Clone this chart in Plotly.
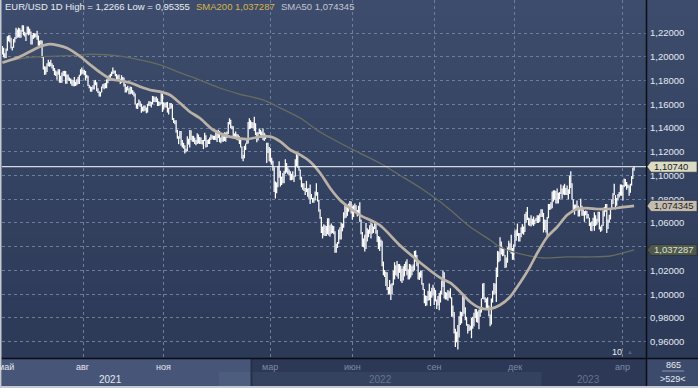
import plotly.graph_objects as go
import pandas as pd

# ---------------- data ----------------
START = "2021-05-03"  # first daily bar (business days)

# daily highs / lows in pips (price * 10000), month by month
high_2021 = [
    12090, 12076, 12030, 12070, 12173, 12181, 12182, 12160, 12085, 12150, 12165, 12245, 12230, 12245, 12240, 12225, 12266, 12265, 12210, 12200, 12255,
    12254, 12235, 12212, 12184, 12200, 12197, 12196, 12218, 12180, 12136, 12140, 12136, 12000, 11920, 11918, 11945, 11975, 11955, 11975, 11945, 11930, 11905,
    11885, 11875, 11895, 11895, 11840, 11868, 11880, 11882, 11880, 11850, 11850, 11826, 11817, 11808, 11805, 11829, 11790, 11810, 11830, 11849, 11895, 11909,
    11892, 11890, 11880, 11849, 11840, 11765, 11750, 11745, 11760, 11800, 11805, 11785, 11735, 11710, 11705, 11750, 11770, 11775, 11780, 11810, 11811, 11845,
    11857, 11875, 11909, 11885, 11885, 11855, 11845, 11850, 11815, 11845, 11830, 11825, 11770, 11745, 11755, 11735, 11750, 11745, 11720, 11705, 11690, 11605,
    11610, 11640, 11625, 11605, 11580, 11590, 11590, 11573, 11604, 11625, 11625, 11620, 11670, 11668, 11660, 11665, 11650, 11625, 11620, 11692, 11690,
    11616, 11613, 11616, 11620, 11570, 11610, 11610, 11600, 11485, 11465, 11465, 11385, 11330, 11375, 11375, 11300, 11275, 11255, 11225, 11330, 11310, 11383,
    11382, 11335, 11334, 11318, 11300, 11355, 11345, 11325, 11320, 11300, 11300, 11360, 11340, 11300, 11305, 11320, 11345, 11340, 11335, 11335, 11370, 11365, 11386,
]
low_2021 = [
    12020, 11995, 11987, 11990, 12050, 12130, 12120, 12070, 12052, 12075, 12120, 12150, 12160, 12163, 12160, 12160, 12210, 12180, 12170, 12133, 12190,
    12180, 12188, 12104, 12103, 12150, 12160, 12165, 12144, 12093, 12092, 12103, 11990, 11892, 11847, 11850, 11871, 11920, 11915, 11920, 11902, 11880, 11845,
    11837, 11807, 11848, 11782, 11780, 11782, 11838, 11835, 11772, 11772, 11800, 11796, 11772, 11756, 11752, 11751, 11754, 11760, 11770, 11771, 11840, 11850,
    11857, 11845, 11800, 11820, 11753, 11735, 11706, 11705, 11725, 11725, 11760, 11710, 11695, 11665, 11664, 11700, 11735, 11727, 11735, 11735, 11777, 11797,
    11800, 11837, 11855, 11860, 11835, 11800, 11800, 11810, 11770, 11780, 11800, 11750, 11700, 11700, 11715, 11685, 11685, 11690, 11680, 11665, 11600, 11563,
    11560, 11590, 11580, 11529, 11540, 11540, 11545, 11524, 11530, 11585, 11585, 11572, 11600, 11620, 11617, 11620, 11585, 11585, 11590, 11600, 11535,
    11555, 11575, 11570, 11530, 11513, 11560, 11565, 11468, 11443, 11432, 11360, 11310, 11264, 11310, 11250, 11235, 11226, 11186, 11195, 11205, 11260, 11235,
    11300, 11285, 11282, 11265, 11255, 11265, 11270, 11265, 11265, 11260, 11222, 11290, 11236, 11240, 11265, 11265, 11300, 11310, 11300, 11300, 11300, 11282, 11315,
]
high_2022 = [
    11375, 11320, 11346, 11330, 11364, 11363, 11370, 11450, 11482, 11470, 11420, 11415, 11355, 11370, 11350, 11345, 11330, 11310, 11245, 11174, 11250,
    11270, 11310, 11450, 11483, 11465, 11450, 11448, 11495, 11440, 11365, 11365, 11395, 11385, 11370, 11395, 11360, 11345, 11275, 11275, 11240,
    11230, 11150, 11125, 11070, 10950, 10940, 11080, 11120, 11040, 10990, 11020, 11040, 11137, 11105, 11070, 11050, 11035, 11015, 11035, 11000, 11137, 11185, 11170,
    11075, 11050, 10990, 10935, 10935, 10895, 10955, 10890, 10895, 10925, 10845, 10810, 10815, 10865, 10935, 10860, 10795, 10715, 10650, 10570, 10590,
    10580, 10575, 10640, 10640, 10580, 10595, 10580, 10575, 10530, 10425, 10440, 10545, 10565, 10605, 10595, 10690, 10750, 10740, 10735, 10765, 10785, 10780,
    10740, 10750, 10765, 10750, 10710, 10745, 10775, 10630, 10525, 10470, 10500, 10600, 10555, 10545, 10580, 10605, 10595, 10570, 10615, 10605, 10540, 10490,
    10485, 10460, 10450, 10275, 10205, 10190, 10185, 10060, 10120, 10085, 10095, 10200, 10270, 10245, 10280, 10255, 10255, 10240, 10215, 10235, 10255,
    10275, 10295, 10210, 10255, 10250, 10235, 10250, 10365, 10368, 10330, 10270, 10185, 10200, 10200, 10095, 10045, 9990, 9985, 10030, 10090, 10025, 10055, 10080,
    10055, 10035, 9955, 9985, 10010, 10030, 10115, 10200, 10185, 10020, 10015, 10035, 10025, 10050, 9975, 9905, 9850, 9710, 9685, 9740, 9815, 9855,
    9850, 9999, 9995, 9890, 9810, 9750, 9745, 9735, 9800, 9810, 9845, 9875, 9875, 9855, 9870, 9875, 9965, 10090, 10095, 9975, 9965,
    9975, 9905, 9830, 9965, 10030, 10095, 10090, 10225, 10365, 10360, 10480, 10445, 10395, 10385, 10330, 10310, 10395, 10450, 10430, 10500, 10390, 10420,
    10535, 10545, 10595, 10515, 10515, 10565, 10590, 10570, 10675, 10695, 10735, 10645, 10640, 10665, 10635, 10655, 10630, 10645, 10665, 10665, 10680, 10715,
]
low_2022 = [
    11280, 11272, 11285, 11285, 11290, 11285, 11315, 11350, 11430, 11400, 11390, 11323, 11320, 11315, 11300, 11295, 11265, 11235, 11140, 11121, 11145,
    11215, 11265, 11270, 11390, 11395, 11400, 11395, 11375, 11340, 11280, 11295, 11350, 11340, 11315, 11300, 11290, 11305, 11106, 11190, 11120,
    11110, 11090, 11040, 10860, 10806, 10850, 10900, 10980, 10907, 10920, 10935, 10935, 11015, 11025, 11010, 11000, 10960, 10960, 10965, 10945, 10990, 11080, 11065,
    11040, 10965, 10900, 10880, 10870, 10835, 10860, 10820, 10805, 10760, 10800, 10770, 10770, 10790, 10830, 10780, 10695, 10635, 10515, 10470, 10495,
    10490, 10490, 10505, 10495, 10485, 10510, 10515, 10505, 10350, 10350, 10390, 10425, 10460, 10460, 10530, 10560, 10640, 10645, 10660, 10695, 10730, 10680,
    10627, 10650, 10705, 10690, 10655, 10680, 10610, 10505, 10400, 10395, 10360, 10380, 10445, 10480, 10510, 10470, 10510, 10515, 10550, 10510, 10440, 10380,
    10365, 10405, 10235, 10160, 10145, 10070, 10035, 9998, 9998, 9952, 10000, 10075, 10125, 10160, 10150, 10130, 10180, 10110, 10095, 10115, 10150,
    10195, 10160, 10125, 10125, 10140, 10160, 10190, 10200, 10275, 10235, 10125, 10120, 10140, 10080, 10035, 9925, 9900, 9905, 9945, 9950, 9900, 9970, 9990,
    9910, 9940, 9875, 9905, 9865, 9930, 10000, 10060, 9965, 9955, 9955, 9945, 9970, 9965, 9810, 9810, 9670, 9555, 9595, 9535.5, 9635, 9740,
    9755, 9815, 9835, 9780, 9735, 9670, 9690, 9695, 9630, 9710, 9730, 9800, 9765, 9760, 9705, 9810, 9845, 9960, 9955, 9930, 9870,
    9870, 9815, 9730, 9745, 9930, 9995, 10005, 9935, 10145, 10270, 10280, 10335, 10320, 10325, 10220, 10225, 10265, 10365, 10355, 10340, 10290, 10290,
    10400, 10450, 10490, 10445, 10445, 10480, 10510, 10500, 10525, 10605, 10625, 10580, 10575, 10570, 10585, 10575, 10590, 10615, 10600, 10600, 10610, 10650,
]
high_2023 = [
    10715, 10685, 10630, 10625, 10650, 10760, 10760, 10775, 10865, 10875, 10875, 10870, 10890, 10855, 10860, 10925, 10890, 10915, 10930, 10895, 10915, 10885,
    11000, 11035, 10935, 10800, 10755, 10755, 10790, 10745, 10730, 10805, 10745, 10715, 10700, 10705, 10700, 10675, 10645, 10605, 10615, 10645,
    10690, 10665, 10635, 10695, 10695, 10570, 10585, 10705, 10735, 10760, 10760, 10630, 10670, 10720, 10800, 10850, 10930, 10835, 10810, 10845, 10860, 10925, 10925,
    10920, 10975, 10970, 10945, 10925, 10915, 10930, 10995, 11065, 11075,
]
low_2023 = [
    10650, 10520, 10540, 10520, 10483, 10640, 10710, 10715, 10725, 10780, 10795, 10765, 10765, 10765, 10800, 10845, 10805, 10840, 10835, 10835, 10835, 10800,
    10845, 10895, 10795, 10710, 10670, 10705, 10710, 10655, 10655, 10705, 10660, 10660, 10610, 10665, 10635, 10640, 10575, 10535, 10530, 10575,
    10535, 10575, 10585, 10610, 10545, 10525, 10535, 10575, 10655, 10695, 10515, 10550, 10605, 10630, 10715, 10760, 10835, 10715, 10745, 10790, 10815, 10830, 10830,
    10790, 10900, 10910, 10880, 10895, 10830, 10855, 10915, 10970, 11040,
]

# moving averages (bar index -> value)
sma50_idx = [0, 14, 30, 38, 52, 63, 71, 79, 87, 95, 103, 111, 119, 127, 135, 143, 151, 159, 170, 183,
             197, 208, 216, 224, 232, 240, 248, 256, 264, 272, 280, 288, 304, 320, 336, 353, 361, 369,
             377, 385, 393, 401, 409, 417, 425, 431, 439, 447, 455, 463, 471, 479, 487, 495, 509]
sma50 = [1.1950, 1.2000, 1.2085, 1.2107, 1.2074, 1.2000, 1.1931, 1.1866, 1.1813, 1.1798, 1.1781, 1.1748,
         1.1720, 1.1706, 1.1678, 1.1611, 1.1537, 1.1484, 1.1383, 1.1327, 1.1307, 1.1327, 1.1327, 1.1285,
         1.1215, 1.1173, 1.1116, 1.1021, 1.0895, 1.0794, 1.0726, 1.0667, 1.0583, 1.0415, 1.0272, 1.0137,
         1.0095, 1.0019, 0.9935, 0.9884, 0.9876, 0.9909, 0.9977, 1.0095, 1.0229, 1.0347, 1.0482, 1.0566,
         1.0667, 1.0718, 1.0726, 1.0718, 1.0718, 1.0726, 1.074345]
sma200_idx = [0, 25, 52, 73, 95, 111, 127, 143, 159, 175, 191, 210, 224, 240, 256, 272, 288, 304, 320,
              337, 353, 361, 377, 393, 401, 415, 436, 455, 474, 490, 500, 509]
sma200 = [1.1958, 1.1998, 1.2009, 1.2021, 1.2006, 1.1973, 1.1931, 1.1866, 1.1804, 1.1737, 1.1686, 1.1636,
          1.1568, 1.1484, 1.1366, 1.1274, 1.1189, 1.1105, 1.1004, 1.0895, 1.0777, 1.0709, 1.0566, 1.0457,
          1.0398, 1.0347, 1.0305, 1.0314, 1.0314, 1.0322, 1.0347, 1.037287]

last_price = 1.10740
y_ticks = [0.96, 0.98, 1.00, 1.02, 1.04, 1.06, 1.08, 1.10, 1.12, 1.14, 1.16, 1.18, 1.20, 1.22]
month_marks = ["2021-05", "2021-08", "2021-11", "2022-03", "2022-06", "2022-09", "2022-12", "2023-04"]
month_names = ["май", "авг", "ноя", "мар", "июн", "сен", "дек", "апр"]
years = [2021, 2022, 2023]
bars_total = "865"
bars_visible = ">529<"
marker_count = "10"

# ---------------- derived ----------------
high = [v / 10000 for v in high_2021 + high_2022 + high_2023]
low = [v / 10000 for v in low_2021 + low_2022 + low_2023]
assert len(high) == len(low)
dates = pd.bdate_range(START, periods=len(high))
ym = list(dates.strftime("%Y-%m"))
month_idx = [ym.index(m) for m in month_marks]

# ---------------- geometry / style ----------------
W, H = 698, 388
L, R, T, B = 2, 52, 0, 30
PW, PH = W - L - R, H - T - B
X_RANGE = [-0.3, 518.6]
Y_RANGE = [0.9463, 1.2478]
FONT = "Liberation Sans, Arial, sans-serif"
GRID = "#6e7d9c"


def xp(px):
    return (px - L) / PW


def yp(py):
    return (T + PH - py) / PH


def fmt_trim(v):
    return f"{v:.5f}".rstrip("0").replace(".", ",")


def fmt_tick(v):
    return f"{v:.5f}".replace(".", ",")


fig = go.Figure()

# daily bars (high-low strokes)
bx, by = [], []
for i, (h, l) in enumerate(zip(high, low)):
    bx += [i, i, None]
    by += [l, h, None]
fig.add_trace(go.Scatter(x=bx, y=by, mode="lines", line=dict(color="#ffffff", width=1.25),
                         hoverinfo="skip", showlegend=False))
fig.add_trace(go.Scatter(x=sma200_idx, y=sma200, mode="lines",
                         line=dict(color="#676b60", width=1.3, shape="spline", smoothing=0.8),
                         hoverinfo="skip", showlegend=False))
fig.add_trace(go.Scatter(x=sma50_idx, y=sma50, mode="lines",
                         line=dict(color="#bab2a6", width=2.7, shape="spline", smoothing=0.8),
                         hoverinfo="skip", showlegend=False))

shapes = []
# background gradient (plot + right scale)
top_c, bot_c = (61, 76, 108), (44, 57, 87)
N = 24
for k in range(N):
    t = k / (N - 1)
    c = tuple(int(round(top_c[j] + (bot_c[j] - top_c[j]) * t)) for j in range(3))
    shapes.append(dict(type="rect", xref="paper", yref="paper", layer="below",
                       x0=xp(0), x1=xp(W), y0=yp(PH * (k + 1) / N + 0.5), y1=yp(PH * k / N),
                       fillcolor=f"rgb{c}", line=dict(width=0)))
# bottom time scale
shapes.append(dict(type="rect", xref="paper", yref="paper", layer="above",
                   x0=xp(0), x1=xp(646), y0=yp(388), y1=yp(358), fillcolor="#2c3855", line=dict(width=0)))
y22 = [i for i, d in enumerate(dates) if d.year == 2022]
shapes.append(dict(type="rect", xref="x", yref="paper", layer="above",
                   x0=y22[0] - 0.5, x1=y22[-1] + 0.5, y0=yp(386), y1=yp(372),
                   fillcolor="#35425f", line=dict(width=0)))
shapes.append(dict(type="rect", xref="paper", yref="paper", layer="above",
                   x0=xp(2), x1=xp(251), y0=yp(386), y1=yp(359),
                   fillcolor="rgba(128,148,190,0.33)", line=dict(width=0)))
shapes.append(dict(type="line", xref="paper", yref="paper", layer="above",
                   x0=xp(251.5), x1=xp(251.5), y0=yp(386), y1=yp(359), line=dict(color="#263049", width=2)))
# right-bottom counter box
shapes.append(dict(type="rect", xref="paper", yref="paper", layer="above",
                   x0=xp(646), x1=xp(W), y0=yp(388), y1=yp(358), fillcolor="#3c4b6c", line=dict(width=0)))
shapes.append(dict(type="line", xref="paper", yref="paper", layer="above",
                   x0=xp(662), x1=xp(684), y0=yp(371), y1=yp(371), line=dict(color="#8d98ae", width=1)))
# separators
shapes.append(dict(type="line", xref="paper", yref="paper", layer="above",
                   x0=xp(646.5), x1=xp(646.5), y0=yp(388), y1=yp(0), line=dict(color="#0a0e16", width=1.5)))
shapes.append(dict(type="line", xref="paper", yref="paper", layer="above",
                   x0=xp(0), x1=xp(W), y0=yp(358.5), y1=yp(358.5), line=dict(color="#0a0e16", width=1.5)))
# light outer frame
shapes.append(dict(type="rect", xref="paper", yref="paper", layer="above",
                   x0=xp(0), x1=xp(1.5), y0=yp(388), y1=yp(0), fillcolor="#c5c9d1", line=dict(width=0)))
shapes.append(dict(type="rect", xref="paper", yref="paper", layer="above",
                   x0=xp(0), x1=xp(W), y0=yp(388), y1=yp(386), fillcolor="#c5c9d1", line=dict(width=0)))
# last price line
shapes.append(dict(type="line", xref="paper", yref="y", layer="above",
                   x0=0, x1=1, y0=last_price, y1=last_price, line=dict(color="#ffffff", width=1)))

# price boxes on the right scale
dh = 5.5 * (Y_RANGE[1] - Y_RANGE[0]) / PH
annotations = []
boxes = [
    (last_price, f"{last_price:.5f}".replace(".", ","), "#dcdcc5", "#1a1a1a"),
    (sma50[-1], f"{sma50[-1]:.6f}".replace(".", ","), "#c3bcb1", "#1f1f1f"),
    (sma200[-1], f"{sma200[-1]:.6f}".replace(".", ","), "#4f5849", "#dde0da"),
]
for v, txt, fill, tc in boxes:
    path = (f"M {xp(647)},{v} L {xp(651)},{v + dh} L {xp(697)},{v + dh} "
            f"L {xp(697)},{v - dh} L {xp(651)},{v - dh} Z")
    shapes.append(dict(type="path", xref="paper", yref="y", layer="above", path=path,
                       fillcolor=fill, line=dict(color="#202530", width=0.6)))
    annotations.append(dict(xref="paper", yref="y", x=xp(652), y=v, text=txt, showarrow=False,
                            xanchor="left", yanchor="middle", font=dict(family=FONT, size=9.5, color=tc)))

# tick labels fully covered by the boxes in the reference are left blank
tick_text = [fmt_tick(v) if abs(v - sma200[-1]) > 0.006 else "" for v in y_ticks]

# title
annotations.append(dict(xref="paper", yref="paper", x=xp(3), y=yp(7), xanchor="left", yanchor="middle",
                        text=f"EUR/USD 1D High = {fmt_trim(max(high))} Low = {fmt_trim(min(low))}",
                        showarrow=False, font=dict(family=FONT, size=9.5, color="#e8ecf3")))
annotations.append(dict(xref="paper", yref="paper", x=xp(194), y=yp(7), xanchor="left", yanchor="middle",
                        text=f"SMA200 {sma200[-1]:.6f}".replace(".", ","),
                        showarrow=False, font=dict(family=FONT, size=9.5, color="#d6b54a")))
annotations.append(dict(xref="paper", yref="paper", x=xp(279), y=yp(7), xanchor="left", yanchor="middle",
                        text=f"SMA50 {sma50[-1]:.6f}".replace(".", ","),
                        showarrow=False, font=dict(family=FONT, size=9.5, color="#c3c6cc")))

# month labels
for k, (i, name) in enumerate(zip(month_idx, month_names)):
    col = "#e3e8f0" if k < 3 else "#7f8ba5"
    annotations.append(dict(xref="x", yref="paper", x=i, y=yp(366.5), text=name, showarrow=False,
                            xshift=4 if k == 0 else 0,
                            xanchor="center", yanchor="middle", font=dict(family=FONT, size=9, color=col)))
# year labels
for yv in years:
    ids = [i for i, d in enumerate(dates) if d.year == yv]
    a = max(ids[0] - 0.5, X_RANGE[0])
    b = min(ids[-1] + 0.5, X_RANGE[1])
    col = "#e3e8f0" if yv == 2021 else "#66728e"
    annotations.append(dict(xref="x", yref="paper", x=(a + b) / 2, y=yp(379), text=str(yv), showarrow=False,
                            xanchor="center", yanchor="middle", font=dict(family=FONT, size=10, color=col)))

annotations.append(dict(xref="paper", yref="paper", x=xp(624), y=yp(352), text=marker_count, showarrow=False,
                        xanchor="right", yanchor="middle", font=dict(family=FONT, size=9, color="#e8ecf3")))
annotations.append(dict(xref="paper", yref="paper", x=xp(630), y=yp(352), text="▲", showarrow=False,
                        xanchor="center", yanchor="middle", font=dict(family=FONT, size=6, color="#56627e")))
annotations.append(dict(xref="paper", yref="paper", x=xp(673), y=yp(365), text=bars_total, showarrow=False,
                        xanchor="center", yanchor="middle", font=dict(family=FONT, size=9, color="#e8ecf3")))
annotations.append(dict(xref="paper", yref="paper", x=xp(673), y=yp(379), text=bars_visible, showarrow=False,
                        xanchor="center", yanchor="middle", font=dict(family=FONT, size=9, color="#e8ecf3")))

fig.update_layout(
    width=W, height=H,
    margin=dict(l=L, r=R, t=T, b=B, pad=0),
    paper_bgcolor="#2c3855",
    plot_bgcolor="rgba(0,0,0,0)",
    showlegend=False,
    hovermode=False,
    font=dict(family=FONT, size=9, color="#e4e9f2"),
    shapes=shapes,
    annotations=annotations,
    xaxis=dict(range=X_RANGE, tickvals=month_idx, showticklabels=False, ticks="",
               showgrid=True, gridcolor=GRID, griddash="3px,3px", gridwidth=1,
               zeroline=False, showline=False, fixedrange=True),
    yaxis=dict(range=Y_RANGE, side="right", tickvals=y_ticks, ticktext=tick_text, ticks="",
               ticklabelstandoff=3,
               tickfont=dict(family=FONT, size=9.5, color="#e4e9f2"),
               showgrid=True, gridcolor=GRID, griddash="3px,3px", gridwidth=1,
               zeroline=False, showline=False, fixedrange=True),
)

fig.write_html(
    "out.html",
    config={"displayModeBar": False, "staticPlot": True},
    post_script="document.body.style.margin='0';document.body.style.overflow='hidden';",
)
